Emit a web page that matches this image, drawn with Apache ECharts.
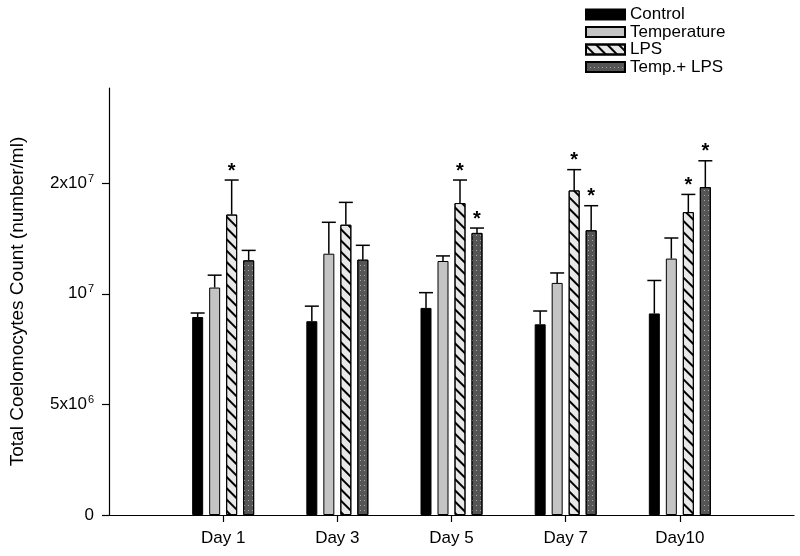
<!DOCTYPE html>
<html>
<head>
<meta charset="utf-8">
<script src="https://cdn.jsdelivr.net/npm/echarts@6/dist/echarts.min.js"></script>
<style>
  html, body { margin: 0; padding: 0; background: #fff; }
  #chart { width: 800px; height: 556px; }
</style>
</head>
<body>
<div id="chart"></div>
<script>
// data (number/ml)
const categories = ['Day 1', 'Day 3', 'Day 5', 'Day 7', 'Day10'];
const seriesNames = ['Control', 'Temperature', 'LPS', 'Temp.+ LPS'];

const controlMean = [8.95e6, 8.76e6, 9.36e6, 8.62e6, 9.11e6];
const controlErr = [0.18e6, 0.68e6, 0.69e6, 0.60e6, 1.49e6];
const tempMean = [10.28e6, 11.81e6, 11.48e6, 10.49e6, 11.59e6];
const tempErr = [0.56e6, 1.42e6, 0.23e6, 0.45e6, 0.93e6];
const lpsMean = [13.58e6, 13.12e6, 14.10e6, 14.67e6, 13.69e6];
const lpsErr = [1.56e6, 1.01e6, 1.04e6, 0.94e6, 0.80e6];
const tlMean = [11.51e6, 11.54e6, 12.75e6, 12.87e6, 14.82e6];
const tlErr = [0.45e6, 0.65e6, 0.22e6, 1.11e6, 1.19e6];

// significance marks (*)
const controlSig = [0, 0, 0, 0, 0];
const tempSig = [0, 0, 0, 0, 0];
const lpsSig = [1, 0, 1, 1, 1];
const tlSig = [0, 0, 1, 1, 1];

// tick labels as printed (base, exponent)
const yTickValues = [0, 5e6, 1e7, 1.5e7];
const yTickBase = ['0', '5x10', '10', '2x10'];
const yTickExp = ['', '6', '7', '7'];

const FONT = 'Liberation Sans, Arial, sans-serif';
const BAR_W = 11;
const BAR_GAP = 6;

const means = [controlMean, tempMean, lpsMean, tlMean];
const errs = [controlErr, tempErr, lpsErr, tlErr];
const sigs = [controlSig, tempSig, lpsSig, tlSig];

// empty slot on each side so the days sit at 1..5 of a 0..6 axis
const axisCats = [''].concat(categories, ['']);
const pad = (arr) => ['-'].concat(arr, ['-']);

const styles = [
  { color: '#000', borderColor: '#000', borderWidth: 1 },
  { color: '#c4c4c4', borderColor: '#000', borderWidth: 1 },
  {
    color: '#e8e8e8', borderColor: '#000', borderWidth: 1,
    decal: {
      symbol: 'rect', symbolSize: 1, color: '#000',
      dashArrayX: [[1, 0]], dashArrayY: [1.6, 5.4],
      rotation: Math.PI / 4
    }
  },
  {
    color: '#555', borderColor: '#000', borderWidth: 1,
    decal: {
      symbol: 'rect', symbolSize: 1, color: '#a8a8a8',
      dashArrayX: [1, 3], dashArrayY: [1, 4],
      rotation: 0
    }
  }
];

const barSeries = seriesNames.map((name, i) => ({
  name: name,
  type: 'bar',
  barWidth: BAR_W,
  barGap: (BAR_GAP / BAR_W * 100) + '%',
  itemStyle: styles[i],
  emphasis: { disabled: true },
  data: pad(means[i])
}));

const errSeries = seriesNames.map((name, i) => ({
  type: 'custom',
  z: 5,
  silent: true,
  data: categories.map((c, k) => [k + 1, means[i][k], errs[i][k], sigs[i][k]]),
  renderItem: (params, api) => {
    const offset = (i - 1.5) * (BAR_W + BAR_GAP);
    const base = api.coord([api.value(0), api.value(1)]);
    const top = api.coord([api.value(0), api.value(1) + api.value(2)]);
    const x = base[0] + offset;
    const line = { stroke: '#000', lineWidth: 1.5 };
    const children = [
      { type: 'line', shape: { x1: x, y1: base[1], x2: x, y2: top[1] }, style: line },
      { type: 'line', shape: { x1: x - 7, y1: top[1], x2: x + 7, y2: top[1] }, style: line }
    ];
    if (api.value(3)) {
      children.push({
        type: 'text',
        style: {
          text: '*', x: x, y: top[1] + 1, align: 'center', verticalAlign: 'bottom',
          fill: '#000', font: 'bold 20px ' + FONT
        }
      });
    }
    return { type: 'group', children: children };
  }
}));

const option = {
  animation: false,
  backgroundColor: '#fff',
  legend: {
    data: seriesNames,
    orient: 'vertical',
    left: 580,
    top: 1,
    icon: 'rect',
    itemWidth: 39,
    itemHeight: 10,
    itemGap: 0.5,
    selectedMode: false,
    textStyle: { fontFamily: FONT, fontSize: 17, color: '#000' }
  },
  grid: { left: 108, right: 6, top: 88, bottom: 41 },
  xAxis: {
    type: 'category',
    data: axisCats,
    boundaryGap: false,
    axisLine: { lineStyle: { color: '#000', width: 1.2 } },
    axisTick: {
      length: 7,
      interval: (idx, val) => val !== '',
      lineStyle: { color: '#000', width: 1.2 }
    },
    axisLabel: {
      interval: 0, margin: 15,
      fontFamily: FONT, fontSize: 17, color: '#000'
    }
  },
  yAxis: {
    type: 'value',
    min: 0,
    max: 1.93e7,
    interval: 5e6,
    name: 'Total Coelomocytes Count (number/ml)',
    nameLocation: 'middle',
    nameGap: 82,
    nameTextStyle: { fontFamily: FONT, fontSize: 19, color: '#000' },
    splitLine: { show: false },
    axisLine: { show: true, lineStyle: { color: '#000', width: 1.2 } },
    axisTick: {
      show: true, length: 7, customValues: yTickValues,
      lineStyle: { color: '#000', width: 1.2 }
    },
    axisLabel: {
      customValues: yTickValues,
      margin: 15,
      color: '#000',
      formatter: (v) => {
        const k = yTickValues.indexOf(v);
        if (k < 0) return '';
        return yTickExp[k] ? '{b|' + yTickBase[k] + '}{s|' + yTickExp[k] + '}' : '{b|' + yTickBase[k] + '}';
      },
      rich: {
        b: { fontFamily: FONT, fontSize: 17, color: '#000', lineHeight: 20 },
        s: { fontFamily: FONT, fontSize: 11, color: '#000', verticalAlign: 'top', lineHeight: 20, padding: [0, 0, 0, 1] }
      }
    }
  },
  series: barSeries.concat(errSeries)
};

const chart = echarts.init(document.getElementById('chart'));
chart.setOption(option);
</script>
</body>
</html>
